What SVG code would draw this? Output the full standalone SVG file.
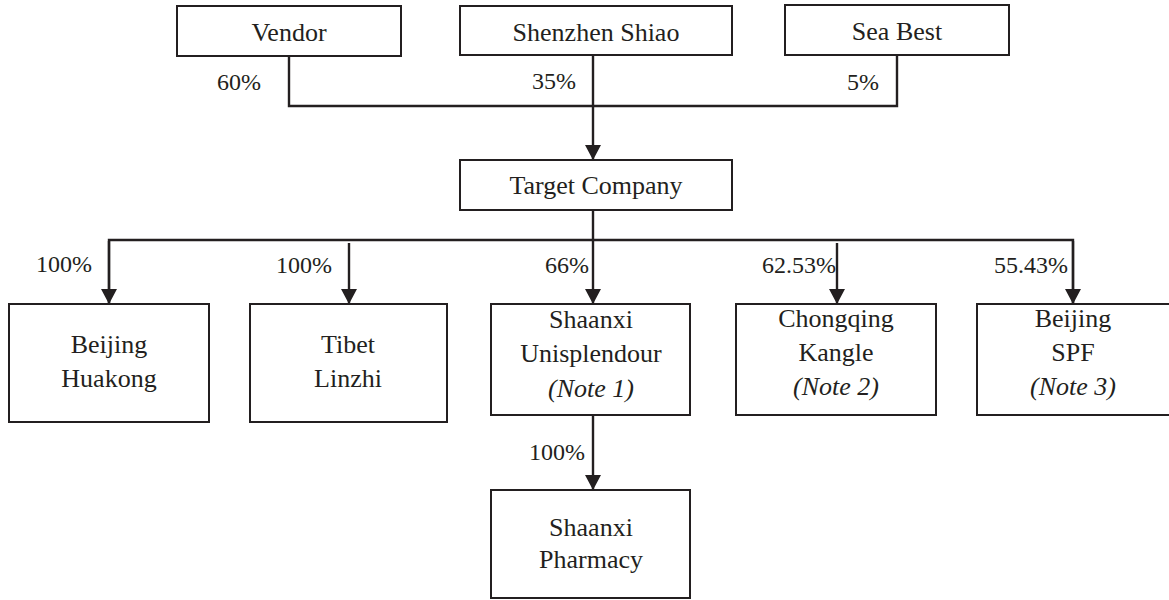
<svg xmlns="http://www.w3.org/2000/svg" width="1169" height="600" viewBox="0 0 1169 600">
<style>
.box{fill:#fff;stroke:#231f20;stroke-width:2}
.t{font-family:"Liberation Serif","Times New Roman",serif;font-size:26px;fill:#231f20;text-anchor:middle}
.i{font-style:italic}
.p{font-family:"Liberation Serif","Times New Roman",serif;font-size:24px;fill:#231f20;text-anchor:end}
.ln{fill:none;stroke:#231f20;stroke-width:2.4}
</style>
<defs>
<marker id="ah" markerUnits="userSpaceOnUse" markerWidth="16" markerHeight="16" viewBox="0 0 16 16" refX="15" refY="8" orient="auto">
<path d="M0,0 L15,8 L0,16 Z" fill="#231f20"/>
</marker>
</defs>
<rect width="1169" height="600" fill="#fff"/>
<g id="connectors">
<polyline class="ln" points="289,56 289,106 897,106 897,55"/>
<line class="ln" x1="593" y1="56" x2="593" y2="160" marker-end="url(#ah)"/>
<line class="ln" x1="593" y1="210" x2="593" y2="304" marker-end="url(#ah)"/>
<polyline class="ln" points="109,304 109,240 1073,240 1073,304"/>
<line class="ln" x1="109" y1="241" x2="109" y2="304" marker-end="url(#ah)"/>
<line class="ln" x1="1073" y1="241" x2="1073" y2="304" marker-end="url(#ah)"/>
<line class="ln" x1="349" y1="243" x2="349" y2="304" marker-end="url(#ah)"/>
<line class="ln" x1="837" y1="243" x2="837" y2="304" marker-end="url(#ah)"/>
<line class="ln" x1="593" y1="415" x2="593" y2="490" marker-end="url(#ah)"/>
<text class="p" x="261" y="90">60%</text>
<text class="p" x="576" y="89">35%</text>
<text class="p" x="879" y="90">5%</text>
<text class="p" x="92" y="272">100%</text>
<text class="p" x="332" y="273">100%</text>
<text class="p" x="589" y="273">66%</text>
<text class="p" x="836" y="273">62.53%</text>
<text class="p" x="1068" y="273">55.43%</text>
<text class="p" x="585" y="460">100%</text>
</g>
<g id="vendor"><rect class="box" x="177" y="6" width="224" height="50"/><text class="t" x="289" y="41">Vendor</text></g>
<g id="shenzhen-shiao"><rect class="box" x="460" y="6" width="272" height="49"/><text class="t" x="596" y="41">Shenzhen Shiao</text></g>
<g id="sea-best"><rect class="box" x="785" y="5" width="224" height="50"/><text class="t" x="897" y="40">Sea Best</text></g>
<g id="target-company"><rect class="box" x="460" y="160" width="272" height="50"/><text class="t" x="596" y="194">Target Company</text></g>
<g id="beijing-huakong"><rect class="box" x="9" y="304" width="200" height="118"/><text class="t" x="109" y="353">Beijing</text><text class="t" x="109" y="387">Huakong</text></g>
<g id="tibet-linzhi"><rect class="box" x="250" y="304" width="197" height="118"/><text class="t" x="348" y="353">Tibet</text><text class="t" x="348" y="387">Linzhi</text></g>
<g id="shaanxi-unisplendour"><rect class="box" x="491" y="304" width="199" height="111"/><text class="t" x="591" y="328">Shaanxi</text><text class="t" x="591" y="362">Unisplendour</text><text class="t i" x="591" y="397">(Note 1)</text></g>
<g id="chongqing-kangle"><rect class="box" x="736" y="304" width="200" height="111"/><text class="t" x="836" y="327">Chongqing</text><text class="t" x="836" y="361">Kangle</text><text class="t i" x="836" y="395">(Note 2)</text></g>
<g id="beijing-spf"><rect class="box" x="977" y="304" width="200" height="111"/><text class="t" x="1073" y="327">Beijing</text><text class="t" x="1073" y="361">SPF</text><text class="t i" x="1073" y="395">(Note 3)</text></g>
<g id="shaanxi-pharmacy"><rect class="box" x="491" y="490" width="199" height="108"/><text class="t" x="591" y="536">Shaanxi</text><text class="t" x="591" y="568">Pharmacy</text></g>
</svg>
